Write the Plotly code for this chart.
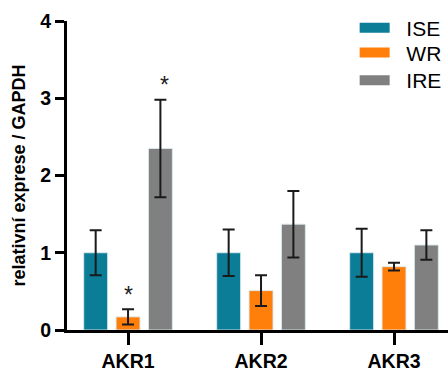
import plotly.graph_objects as go

categories = ["AKR1", "AKR2", "AKR3"]
series_names = ["ISE", "WR", "IRE"]
colors = ["#0b7d96", "#ff7f0a", "#808080"]
values = {
    "ISE": [1.0, 1.0, 1.0],
    "WR": [0.17, 0.51, 0.82],
    "IRE": [2.35, 1.37, 1.10],
}
errors = {
    "ISE": [0.29, 0.30, 0.31],
    "WR": [0.10, 0.20, 0.05],
    "IRE": [0.63, 0.43, 0.19],
}
# significance markers: (category index, series, y position)
stars = [(0, "WR", 0.45), (0, "IRE", 3.17)]

legend_ids = ["legend", "legend2", "legend3"]
legend_y = [0.977, 0.897, 0.807]

fig = go.Figure()
for name, col, lid in zip(series_names, colors, legend_ids):
    fig.add_trace(go.Bar(
        x=categories, y=values[name], name=name, showlegend=False,
        marker=dict(color=col, line=dict(color="rgba(220,235,240,0.9)", width=1)),
        error_y=dict(type="data", array=errors[name], color="#1a1a1a", thickness=2, width=6),
    ))
    fig.add_trace(go.Scatter(
        x=[None], y=[None], mode="lines", name="  " + name, legend=lid,
        line=dict(color=col, width=10),
    ))

bar_step = 0.274
for ci, s, yv in stars:
    off = (series_names.index(s) - 1) * bar_step
    fig.add_annotation(x=ci + off, y=yv, text="*", showarrow=False,
                       font=dict(size=23, color="#222"), yanchor="middle")

font_family = "Liberation Sans, Arial"
legend_style = dict(x=0.755, xanchor="left", yanchor="middle",
                    font=dict(size=21, color="black"), bgcolor="rgba(0,0,0,0)")
fig.update_layout(
    width=448, height=372,
    margin=dict(l=67, r=0, t=21, b=40),
    paper_bgcolor="white", plot_bgcolor="white",
    barmode="group", bargap=0.27, bargroupgap=0.26,
    font=dict(family=font_family, color="black"),
    legend=dict(y=legend_y[0], **legend_style),
    legend2=dict(y=legend_y[1], **legend_style),
    legend3=dict(y=legend_y[2], **legend_style),
    xaxis=dict(
        range=[-0.459, 2.406], showline=True, linecolor="black", linewidth=3,
        ticks="outside", ticklen=12, tickwidth=3, tickcolor="black",
        tickfont=dict(size=19.5, family=font_family, weight="bold"),
        showgrid=False, zeroline=False,
    ),
    yaxis=dict(
        range=[0, 4], tickvals=[0, 1, 2, 3, 4], showline=True, linecolor="black", linewidth=3,
        ticks="outside", ticklen=9, tickwidth=3, tickcolor="black",
        tickfont=dict(size=19.5, family=font_family, weight="bold"),
        showgrid=False, zeroline=False,
        title=dict(text="relativní exprese / GAPDH", standoff=10,
                   font=dict(size=18, family=font_family, weight="bold")),
    ),
)
fig.write_html("out.html")
